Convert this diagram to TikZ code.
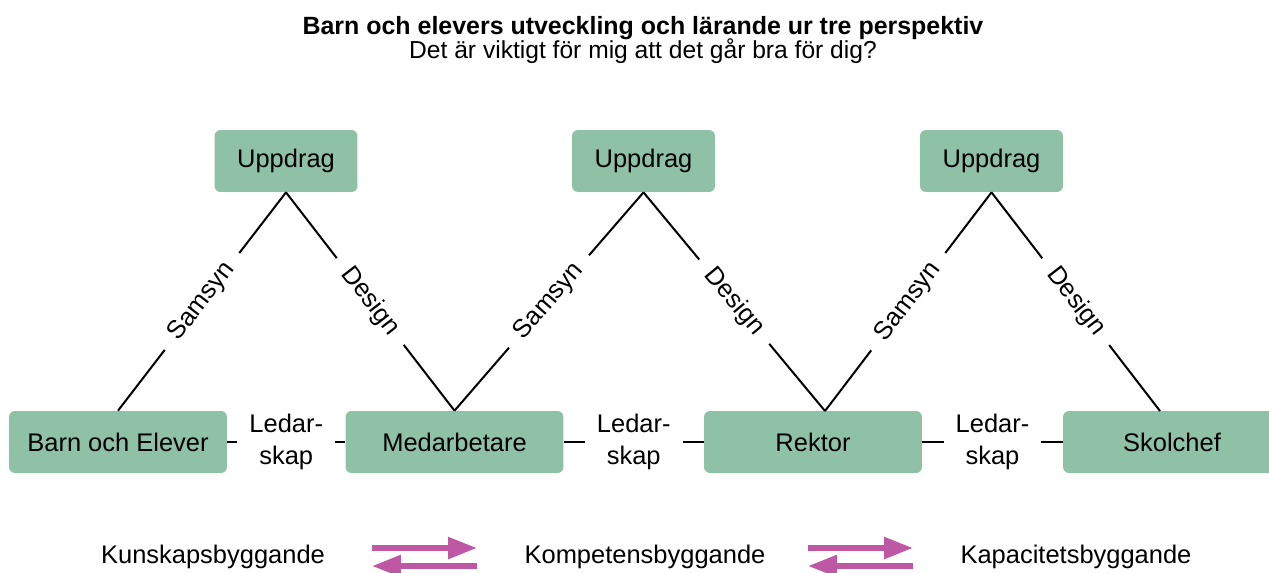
\documentclass[tikz,border=0pt]{standalone}
\usepackage{fontspec}
\setmainfont{Liberation Sans}
\usetikzlibrary{arrows.meta,positioning}
\definecolor{boxgreen}{RGB}{143,193,166}
\definecolor{flowpink}{RGB}{190,88,164}

\begin{document}
\begin{tikzpicture}[x=0.02cm,y=-0.02cm,
  font=\fontsize{14.5}{17}\selectfont,
  box/.style={fill=boxgreen,rounded corners=0.12cm,minimum height=1.24cm,inner sep=0pt},
  topbox/.style={box,minimum width=2.86cm},
  basebox/.style={box,minimum width=4.36cm},
  lab/.style={fill=white,sloped,inner xsep=0.3cm,inner ysep=1pt},
  lead/.style={fill=white,align=center,font=\fontsize{14.5}{18}\selectfont,inner xsep=0.24cm,inner ysep=0pt},
  flow/.style={flowpink,line width=0.11cm,-{Triangle[length=0.58cm,width=0.42cm]}}]
\useasboundingbox (0,0) rectangle (1269,572);
\clip (0,0) rectangle (1269,572);
\node[font=\fontsize{14.2}{17}\selectfont\bfseries] (T) at (643,28) {Barn och elevers utveckling och lärande ur tre perspektiv};
\node[font=\fontsize{14}{17}\selectfont] (S) at (643,51) {Det är viktigt för mig att det går bra för dig?};
\node[topbox] (U1) at (286,161) {Uppdrag};
\node[topbox] (U2) at (643.5,161) {Uppdrag};
\node[topbox] (U3) at (991.5,161) {Uppdrag};
\node[basebox] (B) at (118,442) {Barn och Elever};
\node[basebox] (M) at (454.5,442) {Medarbetare};
\node[basebox] (R) at (813,442) {Rektor};
\node[basebox] (C) at (1172,442) {Skolchef};
\coordinate (r) at (825,411);
\coordinate (c) at (1160,411);
\path[draw,line width=0.04cm]
(U1.south) edge node[lab] {Samsyn} (B.north)
(U1.south) edge node[lab] {Design} (M.north)
(U2.south) edge node[lab] {Samsyn} (M.north)
(U2.south) edge node[lab] {Design} (r)
(U3.south) edge node[lab] {Samsyn} (r)
(U3.south) edge node[lab] {Design} (c)
(B) edge node[lead] {Ledar-\\skap} (M)
(M) edge node[lead] {Ledar-\\skap} (R)
(R) edge node[lead] {Ledar-\\skap} (C);
% bottom row
\node (K1) at (213,557) {Kunskapsbyggande};
\node (K2) at (645,557) {Kompetensbyggande};
\node (K3) at (1076,557) {Kapacitetsbyggande};
\coordinate (a1) at (372,548);
\coordinate (a2) at (477,548);
\coordinate (a3) at (372,566);
\coordinate (a4) at (477,566);
\coordinate (b1) at (808,548);
\coordinate (b2) at (913,548);
\coordinate (b3) at (808,566);
\coordinate (b4) at (913,566);
\draw[flow] (a1) -- (a2);
\draw[flow] (a4) -- (a3);
\draw[flow] (b1) -- (b2);
\draw[flow] (b4) -- (b3);
\end{tikzpicture}
\end{document}
